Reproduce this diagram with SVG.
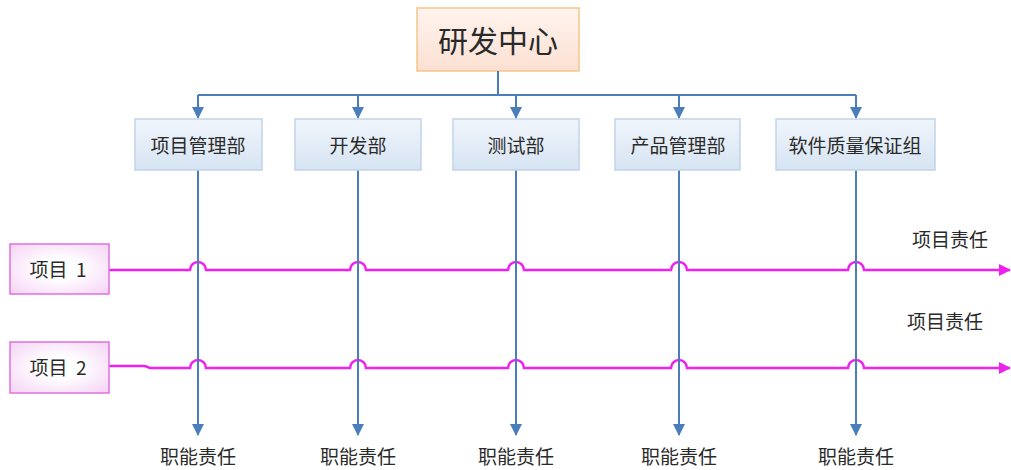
<svg xmlns="http://www.w3.org/2000/svg" width="1011" height="470" viewBox="0 0 1011 470">
<defs>
<linearGradient id="gTop" x1="0" y1="0" x2="0" y2="1"><stop offset="0" stop-color="#fff4ee"/><stop offset="1" stop-color="#fbe0d2"/></linearGradient>
<linearGradient id="gDept" x1="0" y1="0" x2="0" y2="1"><stop offset="0" stop-color="#f0f5fb"/><stop offset="1" stop-color="#d6e4f3"/></linearGradient>
<radialGradient id="gProj" cx="0.5" cy="0.5" r="0.7"><stop offset="0.3" stop-color="#ffffff"/><stop offset="1" stop-color="#f5d2f5"/></radialGradient>
<marker id="aMag" markerWidth="12" markerHeight="12" refX="11" refY="6" orient="auto" markerUnits="userSpaceOnUse"><path d="M0,0 L12,6 L0,12 z" fill="#f020f0"/></marker>
<marker id="aDown" markerWidth="12" markerHeight="12" refX="6" refY="11" orient="0" markerUnits="userSpaceOnUse"><path d="M0,0 L12,0 L6,12 z" fill="#4a7ebb"/></marker>
</defs>
<style>
.t{font-family:"Noto Sans CJK SC","Liberation Sans",sans-serif;fill:#2a2a2a;text-anchor:middle;dominant-baseline:central}
.dept rect{fill:url(#gDept);stroke:#c2d3e8;stroke-width:1.5}
.proj rect{fill:url(#gProj);stroke:#e070e0;stroke-width:1.5}
.bl{stroke:#4a7ebb;stroke-width:2;fill:none}
.mg{stroke:#f020f0;stroke-width:2.5;fill:none}
</style>
<g id="center"><rect x="417" y="8" width="162" height="63" fill="url(#gTop)" stroke="#f5c58a" stroke-width="1.5"/><text class="t" x="498" y="39" font-size="30">研发中心</text></g>
<g id="connectors">
<path class="bl" d="M498,71 V95 M198,95 H856"/>
<path class="bl" d="M198,95 V118" marker-end="url(#aDown)"/>
<path class="bl" d="M358,95 V118" marker-end="url(#aDown)"/>
<path class="bl" d="M516,95 V118" marker-end="url(#aDown)"/>
<path class="bl" d="M679,95 V118" marker-end="url(#aDown)"/>
<path class="bl" d="M856,95 V118" marker-end="url(#aDown)"/>
<path class="mg" d="M109,270 H190 A8,8 0 0 1 206,270 H350 A8,8 0 0 1 366,270 H508 A8,8 0 0 1 524,270 H671 A8,8 0 0 1 687,270 H848 A8,8 0 0 1 864,270 H1010" marker-end="url(#aMag)"/>
<path class="mg" d="M109,366 H145 L150,368 H190 A8,8 0 0 1 206,368 H350 A8,8 0 0 1 366,368 H508 A8,8 0 0 1 524,368 H671 A8,8 0 0 1 687,368 H848 A8,8 0 0 1 864,368 H1010" marker-end="url(#aMag)"/>
<path class="bl" d="M198,170 V435" marker-end="url(#aDown)"/>
<path class="bl" d="M358,170 V435" marker-end="url(#aDown)"/>
<path class="bl" d="M516,170 V435" marker-end="url(#aDown)"/>
<path class="bl" d="M679,170 V435" marker-end="url(#aDown)"/>
<path class="bl" d="M856,170 V435" marker-end="url(#aDown)"/>
</g>
<g id="d1" class="dept"><rect x="135" y="119" width="127" height="51"/><text class="t" x="198" y="144" font-size="19">项目管理部</text></g>
<g id="d2" class="dept"><rect x="295" y="119" width="126" height="51"/><text class="t" x="358" y="144" font-size="19">开发部</text></g>
<g id="d3" class="dept"><rect x="453" y="119" width="126" height="51"/><text class="t" x="516" y="144" font-size="19">测试部</text></g>
<g id="d4" class="dept"><rect x="615" y="119" width="125" height="51"/><text class="t" x="678" y="144" font-size="19">产品管理部</text></g>
<g id="d5" class="dept"><rect x="776" y="119" width="159" height="51"/><text class="t" x="855" y="144" font-size="19">软件质量保证组</text></g>
<g id="p1" class="proj"><rect x="10" y="244" width="99" height="50"/><text class="t" x="58" y="268" font-size="19" xml:space="preserve">项目  1</text></g>
<g id="p2" class="proj"><rect x="10" y="342" width="99" height="51"/><text class="t" x="58" y="366" font-size="19" xml:space="preserve">项目  2</text></g>
<g id="labels">
<text class="t" x="950" y="238" font-size="19">项目责任</text>
<text class="t" x="945" y="320" font-size="19">项目责任</text>
<text class="t" x="198" y="455" font-size="19">职能责任</text>
<text class="t" x="358" y="455" font-size="19">职能责任</text>
<text class="t" x="516" y="455" font-size="19">职能责任</text>
<text class="t" x="679" y="455" font-size="19">职能责任</text>
<text class="t" x="856" y="455" font-size="19">职能责任</text>
</g>
</svg>
